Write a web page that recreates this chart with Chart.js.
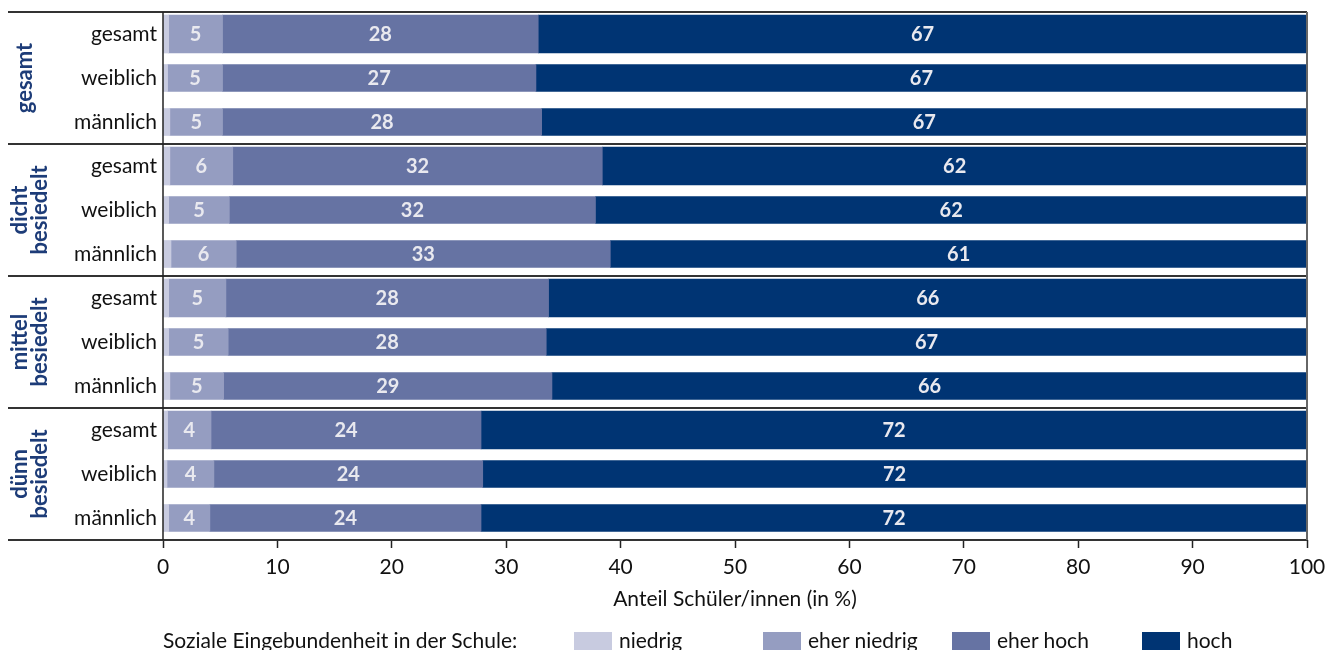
<!DOCTYPE html>
<html>
<head>
<meta charset="utf-8">
<script src="https://cdn.jsdelivr.net/npm/chart.js@4.4.1/dist/chart.umd.min.js"></script>
<style>
  html, body { margin: 0; padding: 0; background: #fff; }
  #wrap { position: relative; width: 1325px; height: 650px; overflow: hidden; font-family: Lato, sans-serif; }
  #legend { position: absolute; left: 0; top: 627px; width: 1325px; height: 30px; font-size: 21px; color: #111; }
  #legend span { position: absolute; top: 0; white-space: nowrap; }
  #legend i { position: absolute; top: 5px; width: 38px; height: 20px; }
</style>
</head>
<body>
<div id="wrap">
  <canvas id="chart-canvas" width="1325" height="650"></canvas>
  <div id="legend"></div>
</div>
<script>
// rows (top to bottom) and their groups
const rowLabels = ['gesamt', 'weiblich', 'männlich', 'gesamt', 'weiblich', 'männlich',
  'gesamt', 'weiblich', 'männlich', 'gesamt', 'weiblich', 'männlich'];
const groupLabels = [['gesamt'], ['dicht', 'besiedelt'], ['mittel', 'besiedelt'], ['dünn', 'besiedelt']];

const seriesNames = ['niedrig', 'eher niedrig', 'eher hoch', 'hoch'];
const seriesColors = ['#c8cbe0', '#959dc1', '#6673a3', '#003473'];

// Anteil in %
const niedrig     = [0.5, 0.4, 0.6,  0.6, 0.5, 0.7,  0.5, 0.5, 0.6,  0.4, 0.35, 0.5];
const eherNiedrig = [4.7, 4.8, 4.6,  5.5, 5.3, 5.7,  5.0, 5.2, 4.7,  3.8, 4.1, 3.6];
const eherHoch    = [27.6, 27.4, 27.9,  32.3, 32.0, 32.7,  28.2, 27.8, 28.7,  23.6, 23.5, 23.7];
const hoch        = [67.2, 67.4, 66.9,  61.6, 62.2, 60.9,  66.3, 66.5, 66.0,  72.2, 72.0, 72.2];

const xTicks = [0, 10, 20, 30, 40, 50, 60, 70, 80, 90, 100];

const seriesValues = [niedrig, eherNiedrig, eherHoch, hoch];

// "gesamt" rows are drawn thicker than the gender rows
const datasets = [];
[true, false].forEach(isTotal => {
  seriesValues.forEach((vals, s) => {
    datasets.push({
      label: seriesNames[s],
      series: s,
      data: vals.map((v, i) => ((i % 3 === 0) === isTotal ? v : null)),
      backgroundColor: seriesColors[s],
      borderWidth: 0,
      barThickness: isTotal ? 38 : 27,
      stack: 'all'
    });
  });
});

const FONT = 'Lato, sans-serif';

const decorations = {
  id: 'decorations',
  afterDatasetsDraw(chart) {
    const ctx = chart.ctx;
    const area = chart.chartArea;
    const y = chart.scales.y;

    // segment values
    ctx.save();
    ctx.font = `bold 20px ${FONT}`;
    ctx.fillStyle = '#e9e9ef';
    ctx.textAlign = 'center';
    ctx.textBaseline = 'middle';
    chart.data.datasets.forEach((ds, di) => {
      if (ds.series === 0) return;
      const meta = chart.getDatasetMeta(di);
      meta.data.forEach((el, i) => {
        const v = ds.data[i];
        if (v == null) return;
        ctx.fillText(String(Math.round(v)), (el.x + el.base) / 2, el.y + 1);
      });
    });
    ctx.restore();

    // group separators
    const step = (y.getPixelForValue(1) - y.getPixelForValue(0));
    ctx.save();
    ctx.strokeStyle = '#333';
    ctx.lineWidth = 2;
    for (let g = 0; g <= groupLabels.length; g++) {
      const py = Math.round(y.getPixelForValue(g * 3) - step / 2);
      ctx.beginPath();
      ctx.moveTo(8, py);
      ctx.lineTo(area.right, py);
      ctx.stroke();
    }
    // right frame line
    ctx.strokeStyle = '#666';
    ctx.beginPath();
    ctx.moveTo(area.right, area.top);
    ctx.lineTo(area.right, area.bottom);
    ctx.stroke();
    // left axis line
    ctx.strokeStyle = '#222';
    ctx.lineWidth = 1.5;
    ctx.beginPath();
    ctx.moveTo(area.left, area.top);
    ctx.lineTo(area.left, area.bottom);
    ctx.stroke();
    ctx.restore();

    // rotated group labels
    ctx.save();
    ctx.font = `bold 22px ${FONT}`;
    ctx.fillStyle = '#1d3c78';
    ctx.textAlign = 'center';
    ctx.textBaseline = 'middle';
    groupLabels.forEach((lines, g) => {
      const cy = (y.getPixelForValue(g * 3) + y.getPixelForValue(g * 3 + 2)) / 2;
      const cx = lines.length === 1 ? 24.5 : 29.5;
      ctx.save();
      ctx.translate(cx, cy);
      ctx.rotate(-Math.PI / 2);
      lines.forEach((t, k) => {
        ctx.fillText(t, 0, (k - (lines.length - 1) / 2) * 20);
      });
      ctx.restore();
    });
    ctx.restore();

    // axis title
    ctx.save();
    ctx.font = `21px ${FONT}`;
    ctx.fillStyle = '#111';
    ctx.textAlign = 'center';
    ctx.textBaseline = 'middle';
    ctx.fillText('Anteil Schüler/innen (in %)', (area.left + area.right) / 2, 599);
    ctx.restore();
  }
};

new Chart(document.getElementById('chart-canvas'), {
  type: 'bar',
  data: { labels: rowLabels, datasets },
  options: {
    indexAxis: 'y',
    responsive: false,
    animation: false,
    layout: { padding: { left: 0, top: 12, right: 18, bottom: 0 } },
    plugins: { legend: { display: false }, tooltip: { enabled: false } },
    scales: {
      x: {
        stacked: true,
        min: 0,
        max: 100,
        afterBuildTicks: scale => { scale.ticks = xTicks.map(v => ({ value: v })); },
        afterFit: scale => {
          scale.height = 110;
          scale.paddingLeft = 0;
          scale.paddingRight = 0;
        },
        grid: { drawOnChartArea: false, drawTicks: true, tickLength: 8, tickColor: '#222', tickWidth: 1.5 },
        border: { display: false },
        ticks: { color: '#111', font: { family: FONT, size: 21 }, padding: 7, maxRotation: 0 }
      },
      y: {
        stacked: true,
        afterFit: scale => {
          scale.width = 163;
          scale.paddingTop = 0;
          scale.paddingBottom = 0;
        },
        grid: { display: false, drawTicks: false },
        border: { display: false },
        ticks: { color: '#111', font: { family: FONT, size: 21 }, padding: 6 }
      }
    }
  },
  plugins: [decorations]
});

// legend below the chart
const legendEl = document.getElementById('legend');
const legendX = [574, 763, 952, 1142];
const title = document.createElement('span');
title.textContent = 'Soziale Eingebundenheit in der Schule:';
title.style.left = '163px';
legendEl.appendChild(title);
seriesNames.forEach((name, s) => {
  const box = document.createElement('i');
  box.style.left = legendX[s] + 'px';
  box.style.background = seriesColors[s];
  legendEl.appendChild(box);
  const t = document.createElement('span');
  t.textContent = name;
  t.style.left = (legendX[s] + 45) + 'px';
  legendEl.appendChild(t);
});
</script>
</body>
</html>
